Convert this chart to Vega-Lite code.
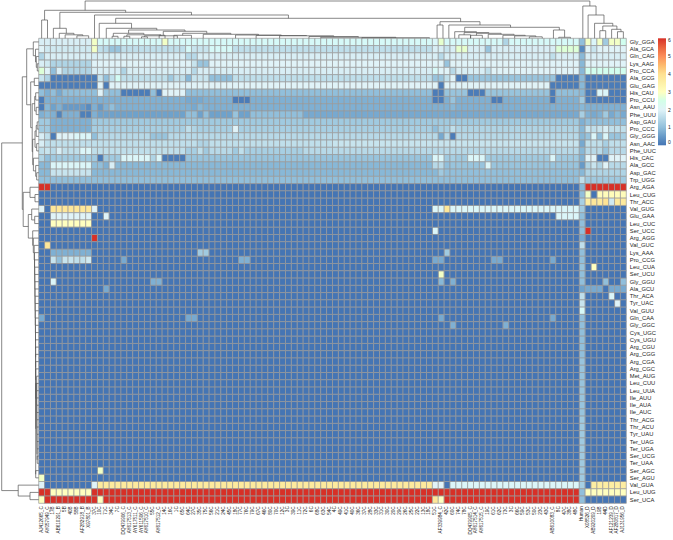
{"$schema":"https://vega.github.io/schema/vega-lite/v6.json","width":587.6,"height":465,"autosize":{"type":"none"},"padding":{"left":38.7,"top":38.3,"right":46.7,"bottom":36.7},"background":"white","config":{"view":{"stroke":null}},"resolve":{"scale":{"x":"independent","y":"independent"},"axis":{"x":"independent","y":"independent"}},
"layer":[
{"encoding":{
"x":{"field":"c","type":"ordinal","scale":{"paddingInner":0,"paddingOuter":0,"round":false},"axis":{"title":null,"orient":"bottom","domain":false,"ticks":false,"labelAngle":270,"labelFontSize":4.6,"labelFont":"Liberation Sans","labelColor":"#222222","labelPadding":2.5,"labelOverlap":false,"labelLimit":0,"labelBound":false,"labelFlush":false,"labelExpr":"['','AJ412665_C','AY057949_C','17B','AB610291_B','5B','40B','58B','AF282918_B','X97801_B','37C','10C','71C','34C','7C','DQ479906_C','AY617513_C','AY617511_C','AY611506_C','AY617510_C','55C','AY617512_C','14C','16C','1C','65C','64C','27C','35C','75C','56C','21C','24C','45C','18C','77C','76C','79C','67C','46C','80C','70C','12C','3C','39C','11C','72C','6C','68C','63C','54C','4C','49C','41C','40C','36C','37C','28C','33C','31C','30C','20C','29C','26C','25C','22C','13C','18C','51C','AF339984_C','42C','60C','74C','78C','DQ479905_C','AY617514_C','AY617515_C','19C','61C','62C','73C','3C','66C','59C','53C','50C','23C','43C','AB610083_C','8C','47C','38C','48C','Human','X08526_D','AB920209_D','19B','44D','AF121239_D','AF280817_D','AJ131956_D'][datum.value]"}},
"y":{"field":"r","type":"nominal","scale":{"paddingInner":0,"paddingOuter":0,"round":false,"domain":["Gly_GGA","Ala_GCA","Gln_CAG","Lys_AAG","Pro_CCA","Ala_GCG","Glu_GAG","His_CAU","Pro_CCU","Asn_AAU","Phe_UUU","Asp_GAU","Pro_CCC","Gly_GGG","Asn_AAC","Phe_UUC","His_CAC","Ala_GCC","Asp_GAC","Trp_UGG","Arg_AGA","Leu_CUG","Thr_ACC","Val_GUG","Glu_GAA","Leu_CUC","Ser_UCC","Arg_AGG","Val_GUC","Lys_AAA","Pro_CCG","Leu_CUA","Ser_UCU","Gly_GGU","Ala_GCU","Thr_ACA","Tyr_UAC","Val_GUU","Gln_CAA","Gly_GGC","Cys_UGC","Cys_UGU","Arg_CGU","Arg_CGG","Arg_CGA","Arg_CGC","Met_AUG","Leu_CUU","Leu_UUA","Ile_AUU","Ile_AUA","Ile_AUC","Thr_ACG","Thr_ACU","Tyr_UAU","Ter_UAG","Ter_UGA","Ser_UCG","Ter_UAA","Ser_AGC","Ser_AGU","Val_GUA","Leu_UUG","Ser_UCA"]},"axis":{"title":null,"orient":"right","domain":false,"ticks":false,"labelFontSize":5.8,"labelFont":"Liberation Sans","labelColor":"#222222","labelPadding":3,"labelOverlap":false,"labelBound":false}},
"color":{"field":"v","type":"quantitative","scale":{"domain":[0,1,2,3,4,5,6],"range":["#4575B4","#91BFDB","#E0F3F8","#FFFFBF","#FEE090","#FC8D59","#D73027"]},"legend":{"title":null,"orient":"none","legendX":619.3,"legendY":0,"gradientLength":107,"gradientThickness":8,"values":[0,1,2,3,4,5,6],"labelFontSize":5,"labelFont":"Liberation Sans","labelColor":"#222222","labelOffset":2,"tickCount":7}}},
"layer":[
{"data":{"values":[
{"r":"Gly_GGA","v":[1.9,1.9,1.9,1.9,1.9,1.9,1.9,1.9,1.9,2.9,2.2,2.2,2.2,2.2,2.2,2.2,2.2,2.2,2.2,2.2,2.2,2.9,2.2,2.2,2.2,2.2,2.2,2.2,2.2,2.2,2.2,2.2,2.2,2.2,2.2,2.2,2.2,2.2,2.2,2.2,2.2,2.2,2.2,2.2,2.2,2.2,2.2,2.2,2.2,2.2,2.2,2.2,2.2,2.2,2.2,2.2,2.2,2.2,2.2,2.2,2.2,2.2,2.2,2.2,2.2,2.2,2.2,2.1,2.8,2.2,2.2,2.2,2.2,2.2,2.2,2.2,2.2,2.2,2.2,1.4,2.2,2.2,2.2,2.2,2.2,2.2,2.2,2.2,2.2,2.2,2.2,2.2,1,2.9,2.1,2.9,1.2,2.9,2.9,2.4]},
{"r":"Ala_GCA","v":[2,1.8,1.8,1.8,1.8,1.8,1.8,1.8,1.8,2.9,1.6,1.5,1.1,1.1,1.6,1.6,1.6,1.6,1.6,1.6,1.6,1.6,1.6,1.6,1.6,2.2,1.7,1.7,1.7,2.2,2.2,2.2,2.2,1.6,1.6,1.6,1.6,1.6,1.6,1.6,1.6,1.6,1.6,1.6,1.6,1.6,1.6,1.6,1.6,1.6,1.6,1.6,1.6,1.6,1.6,1.6,1.6,1.6,1.6,1.6,1.6,1.6,1.6,1.6,1.6,1.6,1.6,1.9,1.9,1.7,1.9,2.8,2.8,1.9,1.9,1.9,1.1,1.9,1.9,1.9,1.9,1.9,1.9,1.9,1.9,1.9,1.9,1.9,2.7,2.7,2.7,2.7,0.3,2,1.7,2,2,2,2,2]},
{"r":"Gln_CAG","v":[1.4,1.9,1.9,1.9,1.9,1.9,1.9,1.9,1.9,1.9,1.9,1.9,1.9,1.9,1.9,1.9,1.9,1.9,1.9,1.9,1.9,1.9,1.9,1.9,1.9,1.5,1.5,1.9,1.9,1.9,1.9,1.9,1.9,1.9,1.9,1.9,1.9,1.9,1.9,1.9,1.9,1.9,1.9,1.9,1.9,1.9,1.9,1.9,1.9,1.9,1.9,1.9,1.9,1.9,1.9,1.9,1.9,1.9,1.9,1.9,1.9,1.9,1.9,1.9,1.9,1.9,1.9,1.9,1.5,1.9,1.9,1.9,1.9,1.9,1.9,1.9,1.9,1.9,1.9,1.9,1.9,1.9,1.9,1.9,1.9,1.9,1.9,1.6,1.9,1.9,1.9,1.9,0.9,1.9,1.9,1.9,1.9,1.9,1.9,1.9]},
{"r":"Lys_AAG","v":[1.9,1.8,1.4,1.4,1.4,1.4,1.4,1.4,1.4,2,2,2,2,2,2,2,2,2,2,2,2,2,2,2,2,2,1.7,1.1,1.1,2,2,2,2,2,2,2,2,2,2,2,2,2,2,2,2,2,2,2,2,2,2,2,2,2,2,2,2,2,2,2,2,2,2,2,2,2,2,2,2,1.1,2,2,2,2,2,2,2,2,2,2,2,2,2,2,2,2,2,2,2,2,2,2,0.9,2,2,2,2,2,2,2]},
{"r":"Pro_CCA","v":[2.7,2,1,1.9,1.4,1.4,1.4,1.4,1.4,1.9,1.9,1.9,1.9,1.9,1.4,1.9,1.9,1.9,1.9,1.9,1.9,1.9,1.9,1.9,1.9,1.9,1.5,1.9,1.9,1.9,1.9,1.9,1.9,1.9,1.9,1.9,1.9,1.9,1.9,1.9,1.9,1.9,1.9,1.9,1.9,1.9,1.9,1.9,1.9,1.9,1.9,1.9,1.9,1.9,1.9,1.9,1.9,1.9,1.9,1.9,1.9,1.9,1.9,1.9,1.9,1.9,1.9,2.2,2,2,1.5,1.9,1.9,1.9,1.9,1.9,1.6,2,2,2,2,2,2,2,2,2,2,2,2,2,2,2,0.9,2.4,2.4,2.4,2.4,2.4,2.4,2.4]},
{"r":"Ala_GCG","v":[1.7,1.4,0.1,0.1,0.1,0.1,0.1,0.1,0.1,0.1,1.7,1,1.6,2.3,1.6,1.6,1.6,1.6,1.6,1.6,1.6,1.6,1.2,1.6,1.6,0.9,1.7,1.7,1.7,1,1,1,1,1.6,1.6,1.6,1.6,1.6,1.6,1.6,1.6,1.6,1.6,1.6,1.6,1.6,1.6,1.6,1.6,1.6,1.6,1.6,1.6,1.6,1.6,1.6,1.6,1.6,1.6,1.6,1.6,1.6,1.6,1.6,1.6,1.6,1.6,1.1,1.1,1.6,2,0.1,0.1,1.1,1.1,1.1,1.1,1.1,1.1,1.1,1.1,1.1,1.1,1.1,1.1,1.1,1.1,1.1,0.1,0.1,0.1,0.1,0.9,0.1,0.1,0.1,0.1,0.1,0.1,0.1]},
{"r":"Glu_GAG","v":[0.1,0.1,0.1,0.1,0.1,0.1,0.1,0.1,0.1,0.1,2,0.1,2,2,2,2,2,2,2,2,2,2,2,2,2,2,2,2,2,2,2,2,2,2,2,2,2,2,2,2,2,2,2,2,2,2,2,2,2,2,2,2,2,2,2,2,2,2,2,2,2,2,2,2,2,2,2,2,0.1,2,2,2,2,2,2,2,2,2,2,2,2,2,2,2,2,2,2,0.1,0.1,0.1,0.1,0.1,0.9,0.1,0.1,0.1,0.1,0.1,0.1,0.1]},
{"r":"His_CAU","v":[1,0.8,1,0.7,1,1,1,1,1,1,2,1.1,1,1,0.1,0.1,0.1,0.1,0.1,1,0.1,2,2,2,2,1,1,1,1,1,1,1,1,1,1,1,1,1,1,1,1,1,1,1,1,1,1,1,1,1,1,1,1,1,1,1,1,1,1,1,1,1,1,1,1,1,1,0.1,0.1,1.1,1.1,1.1,1.1,0.1,0.1,0.1,1.1,1.1,1.1,1.1,1.1,1.1,1.1,1.1,1.1,1.1,1.1,0.1,1,1,1,1,0.9,0.1,0.1,2.1,2.1,0.1,0.1,0.1]},
{"r":"Pro_CCU","v":[0.1,0.8,0.8,0.8,0.8,0.8,0.8,0.8,0.8,0.8,0.8,0.8,0.8,0.8,0.8,0.8,0.8,0.8,0.8,0.8,0.8,0.8,0.8,0.8,0.8,0.7,0.7,0.7,0.8,0.8,0.8,0.8,0.8,0.1,0.1,0.1,0.8,0.8,0.8,0.8,0.8,0.8,0.8,0.8,0.8,0.8,0.8,0.8,0.8,0.8,0.8,0.8,0.8,0.8,0.8,0.8,0.8,0.8,0.8,0.8,0.8,0.8,0.8,0.8,0.8,0.8,0.8,0.1,0.1,0.8,1.1,0.8,0.8,0.8,0.8,0.8,0.8,0.1,0.1,0.8,0.8,0.8,0.8,0.8,0.8,0.8,0.8,0.1,0.8,0.8,0.8,0.8,1.2,0.1,0.1,0.1,0.1,0.1,0.1,0.1]},
{"r":"Asn_AAU","v":[0.1,0.9,0.6,0.8,0.5,0.5,0.5,0.5,0.3,0.8,0.5,0.8,1,0.8,0.8,0.8,0.8,0.8,0.8,0.8,0.8,0.8,0.8,0.8,0.8,0.8,0.7,0.9,0.8,0.8,0.8,0.8,0.8,0.8,0.8,0.8,0.8,0.8,0.8,0.8,0.8,0.8,0.8,0.8,0.8,0.8,0.8,0.8,0.8,0.8,0.8,0.8,0.8,0.8,0.8,0.8,0.8,0.8,0.8,0.8,0.8,0.8,0.8,0.8,0.8,0.8,0.8,0.8,0.8,0.8,0.9,0.8,0.8,0.8,0.8,0.8,0.8,0.8,0.8,0.8,0.8,0.8,0.8,0.8,0.8,0.8,0.8,0.8,0.8,0.8,0.8,0.8,0.9,0.8,0.8,0.8,0.8,0.8,0.8,0.8]},
{"r":"Phe_UUU","v":[0.8,0.9,0.8,0.2,0.8,0.8,0.8,0.15,0.15,0.8,0.6,0.6,0.6,0.6,0.6,0.6,0.6,0.6,0.6,0.6,0.6,0.6,0.6,0.6,0.6,1,1,0.6,1,0.6,0.6,0.6,0.6,1.1,0.6,0.6,1,1,1,1,1,1,1,1,1,0.7,0.7,0.7,0.7,0.7,0.7,0.7,0.7,0.7,0.7,0.7,0.7,0.7,0.7,0.7,0.7,0.7,0.7,0.7,0.7,0.7,0.7,0.7,0.7,0.7,0.7,0.7,0.7,0.7,0.7,0.7,0.7,0.7,0.7,0.7,0.7,0.7,0.7,0.7,0.7,0.7,0.7,0.7,0.7,0.7,0.7,0.7,1.3,0.8,0.7,0.8,1.2,0.7,0.9,0.7]},
{"r":"Asp_GAU","v":[1.2,1.2,0.8,0.8,0.8,0.8,0.8,0.8,0.8,1.2,1.2,1.2,1.2,1.2,1.2,1.2,1.2,1.2,1.2,1.2,1.2,1.2,1.2,1.2,1.2,1.2,1.2,1.2,1.2,1.2,1.2,1.2,1.2,1.2,1.2,1.2,1.2,1.2,1.2,1.2,1.2,1.2,1.2,1.2,1.2,1.2,1.2,1.2,1.2,1.2,1.2,1.2,1.2,1.2,1.2,1.2,1.2,1.2,1.2,1.2,1.2,1.2,1.2,1.2,1.2,1.2,1.2,1.2,1.2,1.2,1.2,1.2,1.2,1.2,1.2,1.2,1.2,1.2,1.2,1.2,1.2,1.2,1.2,1.2,1.2,1.2,1.2,1.2,1.2,1.2,1.2,1.2,0.8,1,1,1,1,1,1,1]},
{"r":"Pro_CCC","v":[1.2,1.2,0.8,0.8,0.8,0.8,0.8,0.8,0.8,1.3,1.3,1.3,1.3,1.3,1.3,1.3,1.3,1.3,1.3,1.3,1.3,1.3,1.3,1.3,1.3,1.6,1.4,1.3,1.3,1.3,1.3,1.3,1.3,2,1.3,1.3,1.3,1.3,1.3,1.3,1.3,1.3,1.3,1.3,1.3,1.3,1.3,1.3,1.3,1.3,1.3,1.3,1.3,1.3,1.3,1.3,1.3,1.3,1.3,1.3,1.3,1.3,1.3,1.3,1.3,1.3,1.3,1,1.3,1.3,1.6,1.4,1.4,1.4,1.4,1.4,1.4,1.4,1.4,1.4,1.4,1.4,1.4,1.4,1.4,1.4,1.4,1.4,1.4,1.4,1.4,1.4,0.9,1.7,1.6,1.7,1.9,1.6,1.6,1.6]},
{"r":"Gly_GGG","v":[1.9,1.6,0.1,2,2,2,2.1,2.1,2.1,1,1.5,1.5,1.5,1.5,1.5,1.5,1.5,1.5,1.5,1.1,1.1,1.1,1.5,1.5,1.5,1.5,1.5,1.5,1.5,1.5,1.5,1.5,1.5,1.5,1.5,1.5,1.5,1.5,1.5,1.5,1.5,1.5,1.5,1.5,1.5,1.5,1.5,1.5,1.5,1.5,1.5,1.5,1.5,1.5,1.5,1.5,1.5,1.5,1.5,1.5,1.5,1.5,1.5,1.5,1.5,1.5,1.5,1.5,0.7,1.5,0.1,1.5,1.5,1.5,1.5,1.5,1.5,1.5,1.5,1.5,1.5,1.5,1.5,1.5,1.5,1.5,1.5,1.5,1.5,1.5,1.5,1.5,0.9,1.1,2.1,1,2.1,1.1,1.1,1.3]},
{"r":"Asn_AAC","v":[1.9,1.6,1.6,1.6,1.6,1.6,1.6,1.6,1.6,1.6,1.6,1.6,1.6,1.6,1.6,1.6,1.6,1.6,1.6,1.6,1.6,1.6,1.6,1.6,1.6,1.6,1.6,1.4,1.4,1.6,1.6,1.6,1.6,1.6,1.6,1.6,1.6,1.6,1.6,1.6,1.6,1.6,1.6,1.6,1.6,1.6,1.6,1.6,1.6,1.6,1.7,1.7,1.7,1.7,1.7,1.7,1.7,1.7,1.7,1.7,1.7,1.7,1.7,1.7,1.7,1.7,1.7,1.7,1.7,1.7,1.7,1.7,1.7,1.7,1.7,1.7,1.7,1.7,1.7,1.7,1.7,1.7,1.7,1.7,1.7,1.7,1.7,1.7,1.7,1.7,1.7,1.7,0.7,1.6,1.6,1.6,1.3,1.6,1.6,1.6]},
{"r":"Phe_UUC","v":[1.6,1.7,1.5,1.9,1.6,1.6,1.6,2.1,2.1,1.6,1.6,1.6,1.6,1.6,1.6,1.6,1.6,1.6,1.6,1.6,1.6,1.6,1.6,1.6,1.6,1.3,1.3,1.6,1.2,1.5,1.5,1.5,1.5,1.2,1.6,1.3,1.3,1.3,1.3,1.3,1.3,1.3,1.3,1.3,1.3,1.5,1.5,1.5,1.5,1.5,1.5,1.5,1.5,1.5,1.5,1.5,1.5,1.5,1.5,1.5,1.5,1.5,1.5,1.5,1.5,1.5,1.5,1.5,1.5,1.5,1.5,1.5,1.5,1.5,1.5,1.5,1.5,1.5,1.5,1.5,1.5,1.5,1.5,1.5,1.5,1.5,1.5,1.5,1.5,1.5,1.5,1.5,0.9,1.5,1.5,1.5,1.1,1.5,1.5,1.5]},
{"r":"His_CAC","v":[1.4,1,1.2,1.2,1.2,1.2,1.2,1.2,1.2,1.2,0.1,1.2,1.2,1.2,2.1,2.1,2.1,2.1,2.1,1.4,2.1,0.1,0.1,0.1,0.1,1.1,1.1,1.1,1.1,1.1,1.1,1.1,1.1,1.1,1.1,1.1,1.1,1.1,1.1,1.1,1.1,1.1,1.1,1.1,1.1,1.1,1.1,1.1,1.1,1.1,1.1,1.1,1.1,1.1,1.1,1.1,1.1,1.1,1.1,1.1,1.1,1.1,1.1,1.1,1.1,1.1,1.1,2.1,2.1,1.2,1.3,1.2,1.2,2.1,2.1,2.1,1.2,1.2,1.2,1.2,1.2,1.2,1.2,1.2,1.2,1.2,1.2,2.1,1.2,1.2,1.2,1.2,0.8,2,2,0.1,0.1,2,2,2]},
{"r":"Ala_GCC","v":[0.9,0.9,2.1,2.1,2.1,2.1,2.1,2.1,2.1,1,1,0.8,1.9,0.9,0.9,0.9,0.9,0.9,0.9,0.9,0.9,0.9,0.9,0.9,0.9,0.9,0.9,0.9,0.9,0.9,0.9,0.9,0.9,0.9,0.9,0.9,0.9,0.9,0.9,0.9,0.9,0.9,0.9,0.9,0.9,0.9,0.9,0.9,0.9,0.9,0.9,0.9,0.9,0.9,0.9,0.9,0.9,0.9,0.9,0.9,0.9,0.9,0.9,0.9,0.9,0.9,0.9,1.5,1.5,1,1.1,1.1,1.1,1.1,1.1,1.1,2.1,1.1,1.1,1.1,1.1,1.1,1.1,1.1,1.1,1.1,1.1,1.1,1.1,1.1,1.1,1.1,0.5,1.4,1.7,1.4,2,1.5,1.5,1.5]},
{"r":"Asp_GAC","v":[0.9,0.9,1.7,1.7,1.7,1.7,1.7,1.7,1.7,0.9,0.9,0.9,0.9,0.9,0.9,0.9,0.9,0.9,0.9,0.9,0.9,0.9,0.9,0.9,0.9,0.9,0.9,0.9,0.9,0.9,0.9,0.9,0.9,0.9,0.9,0.9,0.9,0.9,0.9,0.9,0.9,0.9,0.9,0.9,0.9,0.9,0.9,0.9,0.9,0.9,0.9,0.9,0.9,0.9,0.9,0.9,0.9,0.9,0.9,0.9,0.9,0.9,0.9,0.9,0.9,0.9,0.9,0.9,1.2,1,1,1,1,1,1,1,1,1,1,1,1,1,1,1,1,1,1,1,1,1,1,1,0.9,1.4,1.4,1.4,1.4,1.4,1.4,1.4]},
{"r":"Trp_UGG","v":[1,1,1,1,1,1,1,1,1,1,1,1,1,1,1,1,1,1,1,1,1,1,1,1,1,1,1,1,1,1,1,1,1,1,1,1,1,1,1,1,1,1,1,1,1,1,1,1,1,1,1,1,1,1,1,1,1,1,1,1,1,1,1,1,1,1,1,1,1,1,1,1,1,1,1,1,1,1,1,1,1,1,1,1,1,1,1,1,1,1,1,1,1.6,1.2,1.2,1.2,1.2,1.2,1.2,1.2]},
{"r":"Val_GUG","v":[2,0,3.8,3.8,3.8,3.8,3.8,3.8,3.8,2,0,0,0,0,0,0,0,0,0,0,0,0,0,0,0,0,0,0,0,0,0,0,0,0,0,0,0,0,0,0,0,0,0,0,0,0,0,0,0,0,0,0,0,0,0,0,0,0,0,0,0,0,0,0,0,0,0,2.1,2.1,3.8,2.1,2.1,2.1,2.1,2.1,2.1,2.1,2.1,2.1,2.1,2.1,2.1,2.1,2.1,2.1,2.1,2.1,2.1,2.1,2.1,2.1,2.1,1.2,0,0,0,0,0,0,0]},
{"r":"Val_GUA","v":[2,0,0,0,0,0,0,0,0,2,3.7,3.7,3.7,3.7,3.7,3.7,3.7,3.7,3.7,3.7,3.7,3.7,3.7,3.7,3.7,3.7,3.7,3.7,3.7,3.7,3.7,3.7,3.7,3.7,3.7,3.7,3.7,3.7,3.7,3.7,3.7,3.7,3.7,3.7,3.7,3.7,3.7,3.7,3.7,3.7,3.7,3.7,3.7,3.7,3.7,3.7,3.7,3.7,3.7,3.7,3.7,3.7,3.7,3.7,3.7,3.7,3.7,2,2,0,2.1,2.1,2.1,2.1,2.1,2.1,2.1,2.1,2.1,2.1,2.1,2.1,2.1,2.1,2.1,2.1,2.1,2.1,2.1,2.1,2.1,2.1,1.3,0,3.6,3.6,3.6,3.6,3.6,3.6]},
{"r":"Leu_UUG","v":[6,6,3,3,3,3,3,3,3,6,6,6,6,6,6,6,6,6,6,6,6,6,6,6,6,6,6,6,6,6,6,6,6,6,6,6,6,6,6,6,6,6,6,6,6,6,6,6,6,6,6,6,6,6,6,6,6,6,6,6,6,6,6,6,6,6,6,6,6,6,6,6,6,6,6,6,6,6,6,6,6,6,6,6,6,6,6,6,6,6,6,6,1,3,3,3,3,3,3,3]},
{"r":"Ser_UCA","v":[3,6,6,6,6,6,6,6,6,6,3,6,6,6,6,6,6,6,6,6,6,6,6,6,6,6,6,6,6,6,6,6,6,6,6,6,6,6,6,6,6,6,6,6,6,6,6,6,6,6,6,6,6,6,6,6,6,6,6,6,6,6,6,6,6,6,6,3.8,3,6,6,6,6,6,6,6,6,6,6,6,6,6,6,6,6,6,6,6,6,6,6,6,1,0,0,0,0,0,0,0]}
]},"transform":[{"flatten":["v"]},{"window":[{"op":"row_number","as":"c"}],"groupby":["r"]}],"mark":{"type":"rect","stroke":"#999999","strokeWidth":0.7}},
{"data":{"values":[
{"r":"Arg_AGA","c":1,"v":6},{"r":"Arg_AGA","c":2,"v":6},{"r":"Arg_AGA","c":93,"v":0.9},{"r":"Arg_AGA","c":94,"v":6},{"r":"Arg_AGA","c":95,"v":6},{"r":"Arg_AGA","c":96,"v":6},{"r":"Arg_AGA","c":97,"v":6},{"r":"Arg_AGA","c":98,"v":6},{"r":"Arg_AGA","c":99,"v":6},{"r":"Arg_AGA","c":100,"v":6},
{"r":"Leu_CUG","c":93,"v":1},{"r":"Leu_CUG","c":94,"v":2.9},{"r":"Leu_CUG","c":96,"v":3.1},{"r":"Leu_CUG","c":97,"v":3.1},{"r":"Leu_CUG","c":98,"v":3.1},{"r":"Leu_CUG","c":99,"v":3.1},{"r":"Leu_CUG","c":100,"v":3.1},
{"r":"Thr_ACC","c":93,"v":1.3},{"r":"Thr_ACC","c":94,"v":3.6},{"r":"Thr_ACC","c":95,"v":3.8},{"r":"Thr_ACC","c":96,"v":3.7},{"r":"Thr_ACC","c":97,"v":3.9},{"r":"Thr_ACC","c":98,"v":1.8},{"r":"Thr_ACC","c":99,"v":3.7},{"r":"Thr_ACC","c":100,"v":3.7},
{"r":"Glu_GAA","c":3,"v":2},{"r":"Glu_GAA","c":4,"v":2},{"r":"Glu_GAA","c":5,"v":2},{"r":"Glu_GAA","c":6,"v":2},{"r":"Glu_GAA","c":7,"v":2},{"r":"Glu_GAA","c":8,"v":2},{"r":"Glu_GAA","c":9,"v":2},{"r":"Glu_GAA","c":12,"v":2},{"r":"Glu_GAA","c":89,"v":2.1},{"r":"Glu_GAA","c":90,"v":2.1},{"r":"Glu_GAA","c":91,"v":2.1},{"r":"Glu_GAA","c":92,"v":2.1},{"r":"Glu_GAA","c":93,"v":1},
{"r":"Leu_CUC","c":3,"v":3},{"r":"Leu_CUC","c":4,"v":3},{"r":"Leu_CUC","c":5,"v":3},{"r":"Leu_CUC","c":6,"v":3},{"r":"Leu_CUC","c":7,"v":3},{"r":"Leu_CUC","c":8,"v":3},{"r":"Leu_CUC","c":9,"v":3},{"r":"Leu_CUC","c":93,"v":1},
{"r":"Ser_UCC","c":68,"v":2.1},{"r":"Ser_UCC","c":93,"v":1},{"r":"Ser_UCC","c":94,"v":6},
{"r":"Arg_AGG","c":10,"v":6},{"r":"Arg_AGG","c":93,"v":0.7},
{"r":"Val_GUC","c":2,"v":3.8},{"r":"Val_GUC","c":93,"v":1.6},
{"r":"Lys_AAA","c":3,"v":0.8},{"r":"Lys_AAA","c":4,"v":0.8},{"r":"Lys_AAA","c":5,"v":0.8},{"r":"Lys_AAA","c":6,"v":0.8},{"r":"Lys_AAA","c":7,"v":0.8},{"r":"Lys_AAA","c":8,"v":0.8},{"r":"Lys_AAA","c":9,"v":0.8},{"r":"Lys_AAA","c":28,"v":1.2},{"r":"Lys_AAA","c":29,"v":1.2},{"r":"Lys_AAA","c":70,"v":1.2},{"r":"Lys_AAA","c":93,"v":1},
{"r":"Pro_CCG","c":3,"v":1.7},{"r":"Pro_CCG","c":4,"v":1},{"r":"Pro_CCG","c":5,"v":1.7},{"r":"Pro_CCG","c":6,"v":1.7},{"r":"Pro_CCG","c":7,"v":1.6},{"r":"Pro_CCG","c":8,"v":1.6},{"r":"Pro_CCG","c":9,"v":1.8},{"r":"Pro_CCG","c":15,"v":0.7},{"r":"Pro_CCG","c":35,"v":0.8},{"r":"Pro_CCG","c":36,"v":0.8},{"r":"Pro_CCG","c":68,"v":0.7},{"r":"Pro_CCG","c":69,"v":0.7},{"r":"Pro_CCG","c":78,"v":0.7},{"r":"Pro_CCG","c":79,"v":0.7},{"r":"Pro_CCG","c":88,"v":0.7},{"r":"Pro_CCG","c":93,"v":1},
{"r":"Leu_CUA","c":93,"v":1.1},{"r":"Leu_CUA","c":95,"v":3},
{"r":"Ser_UCU","c":69,"v":2.9},{"r":"Ser_UCU","c":93,"v":1},
{"r":"Gly_GGU","c":3,"v":2.1},{"r":"Gly_GGU","c":20,"v":0.8},{"r":"Gly_GGU","c":21,"v":0.8},{"r":"Gly_GGU","c":69,"v":0.9},{"r":"Gly_GGU","c":71,"v":0.8},{"r":"Gly_GGU","c":93,"v":1},{"r":"Gly_GGU","c":97,"v":1},{"r":"Gly_GGU","c":100,"v":1},
{"r":"Ala_GCU","c":12,"v":0.7},{"r":"Ala_GCU","c":93,"v":0.6},{"r":"Ala_GCU","c":94,"v":0.7},{"r":"Ala_GCU","c":95,"v":0.7},{"r":"Ala_GCU","c":96,"v":0.7},{"r":"Ala_GCU","c":98,"v":0.7},{"r":"Ala_GCU","c":99,"v":0.7},{"r":"Ala_GCU","c":100,"v":0.7},
{"r":"Thr_ACA","c":93,"v":1.6},{"r":"Thr_ACA","c":98,"v":2.1},
{"r":"Tyr_UAC","c":93,"v":1.7},{"r":"Tyr_UAC","c":99,"v":2},
{"r":"Val_GUU","c":93,"v":2.2},
{"r":"Gln_CAA","c":1,"v":0.7},{"r":"Gln_CAA","c":26,"v":0.7},{"r":"Gln_CAA","c":27,"v":0.7},{"r":"Gln_CAA","c":69,"v":0.7},{"r":"Gln_CAA","c":88,"v":0.7},{"r":"Gln_CAA","c":93,"v":1},
{"r":"Gly_GGC","c":71,"v":0.8},{"r":"Gly_GGC","c":80,"v":0.8},{"r":"Gly_GGC","c":93,"v":1},
{"r":"Cys_UGC","c":93,"v":1},{"r":"Cys_UGU","c":93,"v":1},{"r":"Arg_CGU","c":93,"v":1},{"r":"Arg_CGG","c":93,"v":1},{"r":"Arg_CGA","c":93,"v":1.1},{"r":"Arg_CGC","c":93,"v":1.1},{"r":"Met_AUG","c":93,"v":1.1},{"r":"Leu_CUU","c":93,"v":1.1},{"r":"Leu_UUA","c":93,"v":1.1},{"r":"Ile_AUU","c":93,"v":1.1},{"r":"Ile_AUA","c":93,"v":1.1},{"r":"Ile_AUC","c":93,"v":1.1},{"r":"Thr_ACG","c":93,"v":1.2},{"r":"Thr_ACU","c":93,"v":1.2},{"r":"Tyr_UAU","c":93,"v":1.2},{"r":"Ter_UAG","c":93,"v":1.2},{"r":"Ter_UGA","c":93,"v":1.2},{"r":"Ser_UCG","c":93,"v":1.2},{"r":"Ter_UAA","c":93,"v":1.2},
{"r":"Ser_AGC","c":11,"v":2.9},{"r":"Ser_AGC","c":93,"v":1.2},{"r":"Ser_AGU","c":1,"v":2.9},{"r":"Ser_AGU","c":93,"v":1.2}
]},"transform":[{"impute":"v","key":"c","keyvals":{"start":1,"stop":101,"step":1},"groupby":["r"],"value":0}],"mark":{"type":"rect","stroke":"#999999","strokeWidth":0.7}}
]},
{"data":{"values":[
{"a":7.9,"b":93.8,"h":37.3,"p":28,"q":32.3},{"a":1,"b":14.8,"h":28,"p":18.3,"q":26},{"a":0.5,"b":1.5,"h":18.3,"p":0,"q":0},{"a":3.6,"b":26,"h":26,"p":10,"q":23.3},{"a":2.5,"b":4.7,"h":10,"p":0,"q":5},{"a":3.5,"b":6,"h":5,"p":0,"q":3.5},{"a":4.5,"b":7.5,"h":3.5,"p":0,"q":2.5},{"a":6.5,"b":8.5,"h":2.5,"p":0,"q":0},
{"a":9.5,"b":42.5,"h":23.3,"p":0,"q":20},{"a":13.1,"b":71.8,"h":20,"p":15,"q":16.6},{"a":10.3,"b":15.8,"h":15,"p":0,"q":10},{"a":11.5,"b":20.1,"h":10,"p":0,"q":8.3},{"a":15.3,"b":24.9,"h":8.3,"p":5,"q":7},{"a":12.7,"b":17.9,"h":5,"p":2,"q":3.5},{"a":12.5,"b":13.5,"h":2,"p":0,"q":0},{"a":15,"b":20.8,"h":3.5,"p":2,"q":2.5},{"a":14.5,"b":15.5,"h":2,"p":0,"q":0},{"a":18,"b":23.6,"h":2.5,"p":1.5,"q":0},{"a":17.5,"b":18.5,"h":1.5,"p":0,"q":0},
{"a":21.2,"b":28.6,"h":7,"p":3,"q":5},{"a":20.5,"b":21.5,"h":3,"p":0,"q":0},{"a":24.5,"b":32.7,"h":5,"p":3,"q":4},{"a":23,"b":26,"h":3,"p":0,"q":0},{"a":28,"b":37.4,"h":4,"p":0,"q":3.3},{"a":33.5,"b":41.3,"h":3.3,"p":0,"q":2.8},{"a":37,"b":45.6,"h":2.8,"p":0,"q":2.5},{"a":41,"b":50.2,"h":2.5,"p":0,"q":1.8},{"a":46,"b":54.4,"h":1.8,"p":0,"q":1},{"a":48,"b":60.8,"h":1,"p":0,"q":0.6},{"a":55,"b":66.5,"h":0.6,"p":0,"q":0},
{"a":68.3,"b":75.1,"h":16.6,"p":13.3,"q":13.3},{"a":67.8,"b":68.8,"h":13.3,"p":0,"q":0},{"a":69.8,"b":80.3,"h":13.3,"p":0,"q":11},{"a":72.5,"b":88.6,"h":11,"p":6.6,"q":8.3},{"a":87.6,"b":89.5,"h":8.3,"p":0,"q":1},{"a":88.5,"b":90.5,"h":1,"p":0,"q":0},{"a":70.8,"b":74.5,"h":6.6,"p":0,"q":5.7},{"a":72.4,"b":76.6,"h":5.7,"p":3.5,"q":5},{"a":71.5,"b":73.5,"h":3.5,"p":0,"q":0},{"a":74.5,"b":78.7,"h":5,"p":3,"q":4},{"a":73.5,"b":75.5,"h":3,"p":0,"q":0},{"a":76.5,"b":80.9,"h":4,"p":0,"q":3},{"a":79,"b":82.8,"h":3,"p":0,"q":2.4},{"a":81,"b":84.6,"h":2.4,"p":0,"q":1.5},{"a":83.5,"b":85.7,"h":1.5,"p":0,"q":0},
{"a":92.6,"b":94.85,"h":32.3,"p":0,"q":23.3},{"a":93.5,"b":96.2,"h":23.3,"p":0,"q":15},{"a":94.6,"b":97.7,"h":15,"p":0,"q":12.3},{"a":96,"b":98.4,"h":12.3,"p":7.6,"q":9},{"a":95.5,"b":96.5,"h":7.6,"p":0,"q":0},{"a":97.5,"b":99.1,"h":9,"p":0,"q":6.6},{"a":98.5,"b":99.5,"h":6.6,"p":0,"q":0}
]},
"layer":[
{"mark":{"type":"rule","stroke":"#555555","strokeWidth":0.7},"encoding":{"x":{"field":"a","type":"quantitative","scale":{"domain":[0,100],"range":[0,587.6],"nice":false,"zero":false},"axis":null},"x2":{"field":"b"},"y":{"field":"h","type":"quantitative","scale":{"domain":[0,465],"range":[0,-465],"nice":false,"zero":false},"axis":null}}},
{"mark":{"type":"rule","stroke":"#555555","strokeWidth":0.7},"encoding":{"x":{"field":"a","type":"quantitative"},"y":{"field":"p","type":"quantitative"},"y2":{"field":"h"}}},
{"mark":{"type":"rule","stroke":"#555555","strokeWidth":0.7},"encoding":{"x":{"field":"b","type":"quantitative"},"y":{"field":"q","type":"quantitative"},"y2":{"field":"h"}}}
]},
{"data":{"values":[
{"a":14.4,"b":62.25,"h":37,"p":16.4,"q":20.5},{"a":5.3,"b":23.55,"h":16.4,"p":12,"q":15.5},{"a":1.45,"b":9.15,"h":12,"p":5.4,"q":8},{"a":0.5,"b":2.4,"h":5.4,"p":0,"q":3.2},{"a":1.5,"b":3.25,"h":3.2,"p":0,"q":2.4},{"a":2.5,"b":4,"h":2.4,"p":0,"q":1.4},{"a":3.5,"b":4.5,"h":1.4,"p":0,"q":0},
{"a":6,"b":12.3,"h":8,"p":4.4,"q":6.5},{"a":5.5,"b":6.5,"h":4.4,"p":0,"q":0},{"a":9,"b":15.6,"h":6.5,"p":4,"q":6},{"a":8,"b":10,"h":4,"p":3,"q":2.5},{"a":7.5,"b":8.5,"h":3,"p":0,"q":0},{"a":9.5,"b":10.5,"h":2.5,"p":0,"q":0},
{"a":13.9,"b":17.4,"h":6,"p":3.7,"q":5.3},{"a":12.75,"b":15,"h":3.7,"p":2.5,"q":2},{"a":12,"b":13.5,"h":2.5,"p":1.5,"q":0},{"a":11.5,"b":12.5,"h":1.5,"p":0,"q":0},{"a":14.5,"b":15.5,"h":2,"p":0,"q":0},{"a":16.5,"b":18.25,"h":5.3,"p":0,"q":3},{"a":17.5,"b":19,"h":3,"p":0,"q":2},{"a":18.5,"b":19.5,"h":2,"p":0,"q":0},
{"a":21.2,"b":25.9,"h":15.5,"p":8.7,"q":10.4},{"a":20.5,"b":21.9,"h":8.7,"p":0,"q":3.7},{"a":21.5,"b":22.5,"h":3.7,"p":0,"q":0},{"a":24.25,"b":27.5,"h":10.4,"p":7,"q":6},{"a":23.5,"b":25,"h":7,"p":0,"q":4},{"a":24.5,"b":25.5,"h":4,"p":0,"q":0},{"a":26.5,"b":28.5,"h":6,"p":0,"q":5.4},{"a":27.5,"b":29.5,"h":5.4,"p":0,"q":4.5},{"a":28.5,"b":30.5,"h":4.5,"p":0,"q":4.2},
{"a":29.5,"b":31.5,"h":4.2,"p":0,"q":4.1},{"a":30.5,"b":32.5,"h":4.1,"p":0,"q":4},{"a":31.5,"b":33.5,"h":4,"p":0,"q":3.9},{"a":32.5,"b":34.5,"h":3.9,"p":0,"q":3.8},{"a":33.5,"b":35.5,"h":3.8,"p":0,"q":3.7},{"a":34.5,"b":36.5,"h":3.7,"p":0,"q":3.6},{"a":35.5,"b":37.5,"h":3.6,"p":0,"q":3.5},{"a":36.5,"b":38.5,"h":3.5,"p":0,"q":3.4},{"a":37.5,"b":39.5,"h":3.4,"p":0,"q":3.3},{"a":38.5,"b":40.5,"h":3.3,"p":0,"q":3.2},{"a":39.5,"b":41.6,"h":3.2,"p":0,"q":3.2},{"a":40.5,"b":42.7,"h":3.2,"p":0,"q":3.1},{"a":41.5,"b":43.9,"h":3.1,"p":0,"q":3.1},{"a":42.5,"b":45.3,"h":3.1,"p":0,"q":3.1},{"a":43.5,"b":47,"h":3.1,"p":0,"q":3},{"a":44.5,"b":49.6,"h":3,"p":0,"q":3},{"a":45.5,"b":53.75,"h":3,"p":0,"q":3},
{"a":47.5,"b":60,"h":3,"p":2,"q":3},{"a":59.5,"b":60.5,"h":3,"p":0,"q":0},{"a":46.5,"b":48.5,"h":2,"p":0,"q":2},{"a":47.5,"b":49.5,"h":2,"p":0,"q":2},{"a":48.5,"b":50.5,"h":2,"p":0,"q":2},{"a":49.5,"b":51.5,"h":2,"p":0,"q":1.9},{"a":50.5,"b":52.5,"h":1.9,"p":0,"q":1.9},{"a":51.5,"b":53.5,"h":1.9,"p":0,"q":1.8},{"a":52.5,"b":54.5,"h":1.8,"p":0,"q":1.8},{"a":53.5,"b":55.5,"h":1.8,"p":0,"q":1.7},{"a":54.5,"b":56.5,"h":1.7,"p":0,"q":1.7},{"a":55.5,"b":57.25,"h":1.7,"p":0,"q":1.6},{"a":56.5,"b":58,"h":1.6,"p":0,"q":1.5},{"a":57.5,"b":58.5,"h":1.5,"p":0,"q":0},
{"a":61.5,"b":63,"h":20.5,"p":0,"q":8.7},{"a":62.5,"b":63.5,"h":8.7,"p":0,"q":0}
]},
"layer":[
{"mark":{"type":"rule","stroke":"#555555","strokeWidth":0.7},"encoding":{"x":{"field":"h","type":"quantitative","scale":{"domain":[0,587.6],"range":[0,-587.6],"nice":false,"zero":false},"axis":null},"y":{"field":"a","type":"quantitative","scale":{"domain":[0,64],"range":[0,465],"nice":false,"zero":false},"axis":null},"y2":{"field":"b"}}},
{"mark":{"type":"rule","stroke":"#555555","strokeWidth":0.7},"encoding":{"x":{"field":"p","type":"quantitative"},"x2":{"field":"h"},"y":{"field":"a","type":"quantitative"}}},
{"mark":{"type":"rule","stroke":"#555555","strokeWidth":0.7},"encoding":{"x":{"field":"q","type":"quantitative"},"x2":{"field":"h"},"y":{"field":"b","type":"quantitative"}}}
]}
]}
